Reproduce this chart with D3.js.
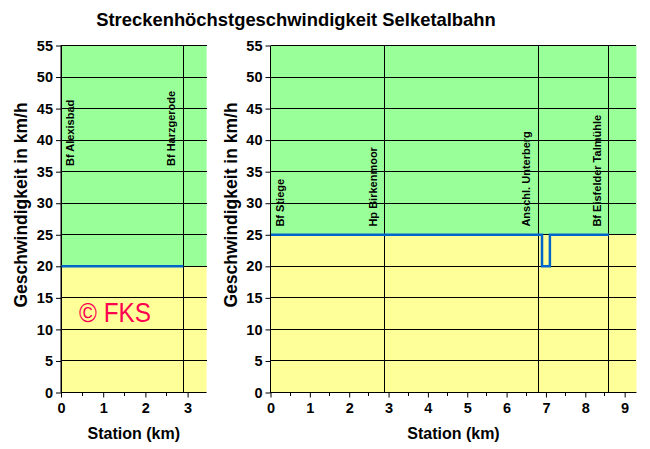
<!DOCTYPE html>
<html><head><meta charset="utf-8">
<script src="https://cdn.jsdelivr.net/npm/d3@7"></script>
<style>body{margin:0;background:#fff}svg{display:block;font-family:Arial,"Liberation Sans",sans-serif}</style>
</head><body>
<script>
// ---- data ----
const title = "Streckenhöchstgeschwindigkeit Selketalbahn";
const yTicks = [0,5,10,15,20,25,30,35,40,45,50,55];
const leftXTicks = [0,1,2,3];
const rightXTicks = [0,1,2,3,4,5,6,7,8,9];
const leftStations = ["Bf Alexisbad","Bf Harzgerode"];
const leftStationKm = [0, 2.9];
const rightStations = ["Bf Stiege","Hp Birkenmoor","Anschl. Unterberg","Bf Eisfelder Talmühle"];
const rightStationKm = [0, 2.9, 6.8, 8.6];
const leftSpeedKm = [0, 2.9];
const leftSpeed = [20, 20];
const rightSpeedKm = [0, 6.9, 6.9, 7.1, 7.1, 8.6];
const rightSpeed = [25, 25, 20, 20, 25, 25];
const leftLimit = 20, rightLimit = 25;
const leftMaxKm = 3.45, rightMaxKm = 9.3;

const W = 650, H = 449;
const svg = d3.select("body").append("svg").attr("width", W).attr("height", H);

svg.append("text").attr("x", 296).attr("y", 26).attr("text-anchor","middle")
  .attr("font-weight","bold").attr("font-size",18.4).attr("fill","#000").text(title);

function panel(cfg){
  const x = d3.scaleLinear().domain([0,cfg.maxKm]).range([cfg.x0,cfg.x1]);
  const y = d3.scaleLinear().domain([0,55]).range([392.5,45.5]);
  const g = svg.append("g");
  // backgrounds
  g.append("rect").attr("x",x(0)).attr("y",y(55)).attr("width",x(cfg.maxKm)-x(0))
    .attr("height",y(cfg.limit)-y(55)).attr("fill","#99ff99");
  g.append("rect").attr("x",x(0)).attr("y",y(cfg.limit)).attr("width",x(cfg.maxKm)-x(0))
    .attr("height",y(0)-y(cfg.limit)).attr("fill","#ffff99");
  // gridlines
  g.selectAll("line.grid").data(yTicks.filter(d=>d>0)).join("line")
    .attr("x1",x(0)).attr("x2",x(cfg.maxKm)).attr("y1",d=>y(d)).attr("y2",d=>y(d))
    .attr("stroke","#000").attr("stroke-width",1).attr("shape-rendering","crispEdges");
  // station lines
  g.selectAll("line.st").data(cfg.stationKm).join("line")
    .attr("x1",d=>x(d)).attr("x2",d=>x(d)).attr("y1",y(0)).attr("y2",y(55))
    .attr("stroke","#000").attr("stroke-width",1).attr("shape-rendering","crispEdges");
  // speed line
  const pts = cfg.speedKm.map((k,i)=>[k,cfg.speed[i]]);
  g.append("path").datum(pts)
    .attr("d", d3.line().x(d=>x(d[0])).y(d=>y(d[1])))
    .attr("fill","none").attr("stroke","#0066cc").attr("stroke-width",2.5);
  // station labels
  cfg.stations.forEach((s,i)=>{
    const km = cfg.stationKm[i];
    const px = km===0 ? x(km)+13 : x(km)-8;
    g.append("text").attr("transform",`translate(${px},${y(cfg.labelAt)}) rotate(-90)`)
      .attr("font-size",11).attr("font-weight","bold").attr("fill","#000").text(s);
  });
  // y axis
  const ya = d3.axisLeft(y).tickValues(yTicks).tickSize(5).tickPadding(3);
  const yg = g.append("g").attr("transform",`translate(${x(0)},0)`).call(ya);
  yg.select(".domain").attr("stroke","#000").attr("d",`M0,${y(0)}V${y(55)}`);
  yg.selectAll("text").attr("font-size",14.5).attr("font-weight","bold").attr("fill","#000")
    .attr("font-family","Arial,'Liberation Sans',sans-serif");
  // x axis
  const xa = d3.axisBottom(x).tickValues(cfg.xTicks).tickSize(5).tickPadding(5).tickFormat(d3.format("d"));
  const xg = g.append("g").attr("transform",`translate(0,${y(0)})`).call(xa);
  xg.select(".domain").attr("stroke","#000").attr("d",`M${x(0)},0H${x(cfg.maxKm)}`);
  xg.selectAll("text").attr("font-size",14.5).attr("font-weight","bold").attr("fill","#000")
    .attr("font-family","Arial,'Liberation Sans',sans-serif");
  const minor = d3.range(0.5, cfg.maxKm, 1);
  g.selectAll("line.minor").data(minor).join("line")
    .attr("x1",d=>x(d)).attr("x2",d=>x(d)).attr("y1",y(0)).attr("y2",y(0)+3)
    .attr("stroke","#000").attr("shape-rendering","crispEdges");
  // axis titles
  svg.append("text").attr("x",(x(0)+x(cfg.maxKm))/2).attr("y",439).attr("text-anchor","middle")
    .attr("font-size",16).attr("font-weight","bold").attr("fill","#000").text("Station (km)");
  svg.append("text").attr("transform",`translate(${cfg.ytX},205) rotate(-90)`).attr("text-anchor","middle")
    .attr("font-size",17.5).attr("font-weight","bold").attr("fill","#000").text("Geschwindigkeit in km/h");
  return {x,y,g};
}

const L = panel({x0:61,x1:61+leftMaxKm*42.2,maxKm:leftMaxKm,limit:leftLimit,stations:leftStations,
  stationKm:leftStationKm,speedKm:leftSpeedKm,speed:leftSpeed,labelAt:35.9,xTicks:leftXTicks,ytX:27});
const R = panel({x0:270.5,x1:270.5+rightMaxKm*39.35,maxKm:rightMaxKm,limit:rightLimit,stations:rightStations,
  stationKm:rightStationKm,speedKm:rightSpeedKm,speed:rightSpeed,labelAt:26.3,xTicks:rightXTicks,ytX:237});

L.g.append("text").attr("x",79).attr("y",322).attr("font-size",28).attr("fill","#ff0050")
  .attr("textLength",72).attr("lengthAdjust","spacingAndGlyphs").text("© FKS");
</script>
</body></html>
